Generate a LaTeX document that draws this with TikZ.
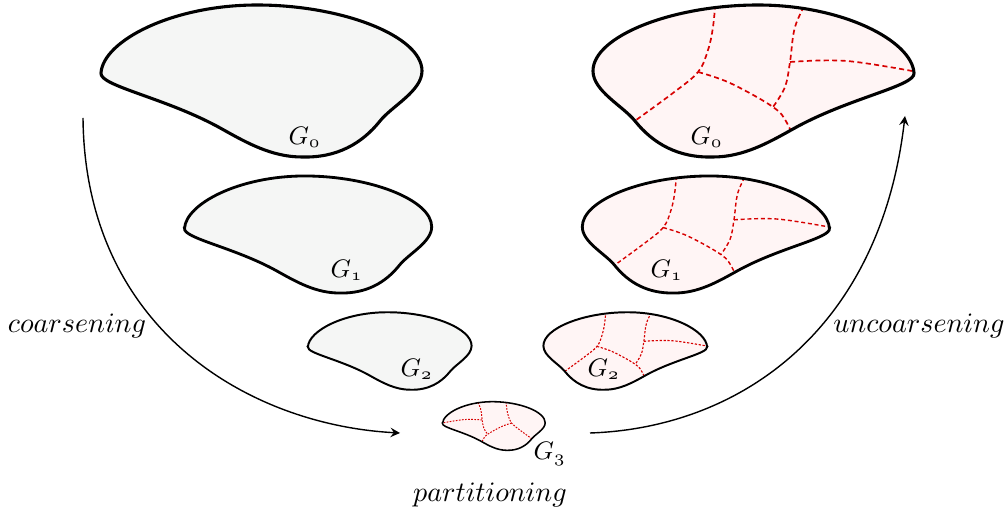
\documentclass[tikz,border=0pt]{standalone}
\usepackage{amsmath}
\usepackage{xcolor}
\usetikzlibrary{arrows}

\definecolor{coarsefill}{RGB}{245,246,245}
\definecolor{partfill}{RGB}{255,245,245}
\definecolor{cutred}{RGB}{215,0,0}

\begin{document}
\begin{tikzpicture}[
    x=0.0125cm, y=-0.0125cm,
    glabel/.style={anchor=base west, inner sep=0pt, font=\small},
    tlabel/.style={anchor=base, inner sep=0pt},
    arrow/.style={line width=0.5pt,->,>=stealth},
    pics/graphblob/.style={code={
        \draw[fill=coarsefill, line width=#1] (-161,-8)
            .. controls (-159,-40) and (-90,-76) .. (-5,-76)
            .. controls (80,-76) and (160,-45) .. (160,-10)
            .. controls (160,10) and (130,25) .. (118,40)
            .. controls (100,62.5) and (75,77) .. (40,76)
            .. controls (10,76) and (-15,62) .. (-40,48)
            .. controls (-95,17) and (-163,5) .. cycle;
    }},
    pics/cutblob/.style n args={3}{code={
        \draw[fill=partfill, line width=#1, path picture={
            \begin{scope}[cutred, line width=#2, dash pattern=#3]
            \draw plot[smooth, tension=0.6] coordinates {(37,-85) (40,-54) (45,-31) (55,-9) (80,12) (128,47)};
            \draw plot[smooth, tension=0.6] coordinates {(55,-9) (23,2) (-20,26) (-34,42) (-44,66)};
            \draw plot[smooth, tension=0.6] coordinates {(-55,-82) (-42,-54) (-37,-19) (-32,6) (-20,26)};
            \draw plot[smooth, tension=0.6] coordinates {(-37,-19) (-94,-20) (-170,-8)};
            \end{scope}
        }] (-161,-8)
            .. controls (-159,-40) and (-90,-76) .. (-5,-76)
            .. controls (80,-76) and (160,-45) .. (160,-10)
            .. controls (160,10) and (130,25) .. (118,40)
            .. controls (100,62.5) and (75,77) .. (40,76)
            .. controls (10,76) and (-15,62) .. (-40,48)
            .. controls (-95,17) and (-163,5) .. cycle;
    }}
]
\useasboundingbox (0,0) rectangle (1006,518);

% coarsening side
\pic (l0) at (262,81) {graphblob={1.1pt}};
\pic[scale=0.77] (l1) at (308.5,234.5) {graphblob={1pt}};
\pic[scale=0.51] (l2) at (390,351) {graphblob={0.7pt}};

% initial partition
\pic[scale=0.32] (p3) at (494,426) {cutblob={0.55pt}{0.35pt}{on 0.6pt off 0.5pt}};

% uncoarsening side
\pic[xscale=-1] (r0) at (753,81) {cutblob={1.1pt}{0.6pt}{on 1.8pt off 1.2pt}};
\pic[xscale=-0.77, yscale=0.77] (r1) at (705.5,234.5) {cutblob={1pt}{0.5pt}{on 1.4pt off 1pt}};
\pic[xscale=-0.51, yscale=0.51] (r2) at (625,351) {cutblob={0.7pt}{0.4pt}{on 0.8pt off 0.6pt}};

\node[glabel] (g0l) at (288,145) {$G_{\oldstylenums{0}}$};
\node[glabel] (g1l) at (330,278) {$G_{\oldstylenums{1}}$};
\node[glabel] (g2l) at (400,377) {$G_{\oldstylenums{2}}$};
\node[glabel] (g3) at (533,460) {$G_{\oldstylenums{3}}$};
\node[glabel] (g0r) at (690,145) {$G_{\oldstylenums{0}}$};
\node[glabel] (g1r) at (650,278) {$G_{\oldstylenums{1}}$};
\node[glabel] (g2r) at (587,377) {$G_{\oldstylenums{2}}$};

\node[tlabel] (coarse) at (77,333) {$coarsening$};
\node[tlabel] (uncoarse) at (919,333) {$uncoarsening$};
\node[tlabel] (part) at (490,502) {$partitioning$};

\coordinate (cstart) at (83,118);
\coordinate (cend) at (400,433);
\coordinate (ustart) at (590,433);
\coordinate (uend) at (905,116);
\draw[arrow] (cstart) .. controls (85,330) and (250,425) .. (cend);
\draw[arrow] (ustart) .. controls (740,428) and (880,330) .. (uend);
\end{tikzpicture}
\end{document}
